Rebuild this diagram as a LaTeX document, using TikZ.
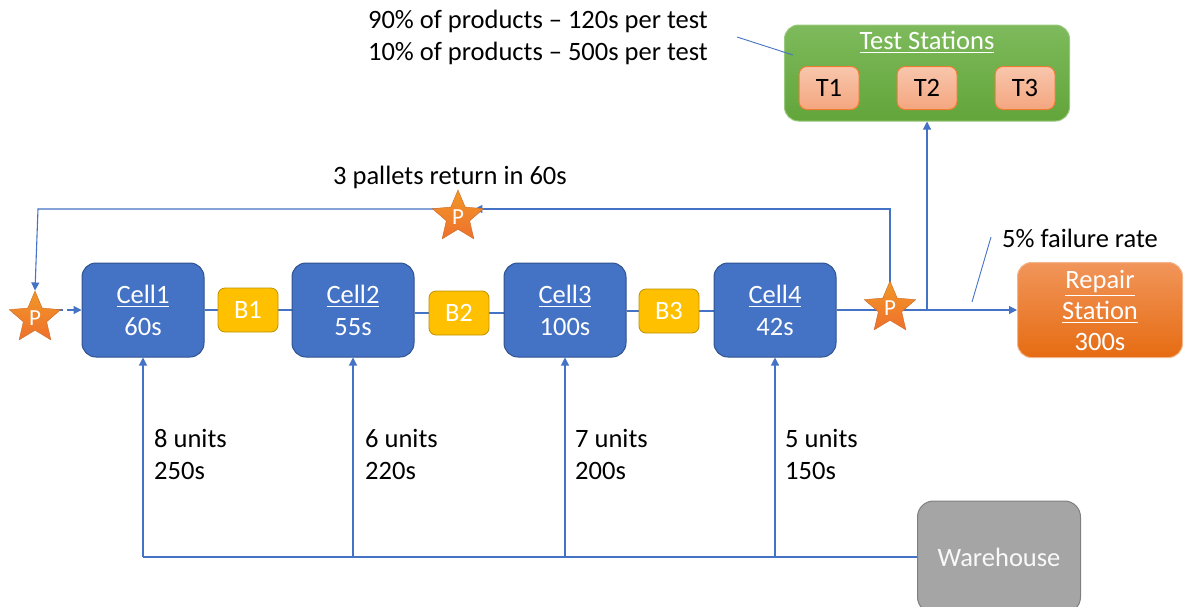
\documentclass[tikz,border=0pt]{standalone}
\usepackage{fontspec}
\setmainfont{Carlito}
\usetikzlibrary{shapes.geometric,arrows.meta,backgrounds}
\definecolor{cellblue}{HTML}{4472C4}
\definecolor{celledge}{HTML}{2F528F}
\definecolor{bufyel}{HTML}{FFC000}
\definecolor{bufedge}{HTML}{BF9000}
\definecolor{flowblue}{HTML}{4472C4}
\definecolor{starorange}{HTML}{ED7D31}
\definecolor{greentop}{HTML}{7EBA5C}
\definecolor{greenbot}{HTML}{62A53A}
\definecolor{salmontop}{HTML}{F8C6AC}
\definecolor{salmonbot}{HTML}{F4A67F}
\definecolor{repairtop}{HTML}{F1955A}
\definecolor{repairbot}{HTML}{E66C12}
\definecolor{whgray}{HTML}{A5A5A5}
\definecolor{whedge}{HTML}{7F7F7F}
% underlined title with a slightly heavier rule
\newcommand\titleline[1]{\leavevmode\vtop{\hbox{#1}\kern2.5pt\hrule height 1.6pt}}
\tikzset{
  big/.style={font=\fontsize{26.5}{32}\selectfont},
  cellbox/.style={big, draw=celledge, line width=1pt, fill=cellblue, rounded corners=14pt,
    text=white, align=center, minimum width=122pt, minimum height=94pt, inner sep=0pt},
  bufbox/.style={big, draw=bufedge, line width=0.8pt, fill=bufyel, rounded corners=7pt,
    text=white, minimum width=60pt, minimum height=44pt, inner sep=0pt},
  pstar/.style={star, star points=5, star point ratio=2.2, minimum size=54pt, inner sep=0pt,
    draw=starorange!85!black, line width=0.4pt, top color=starorange!80!yellow, bottom color=starorange!90!red,
    text=white, font=\fontsize{23}{24}\selectfont},
  tbox/.style={big, draw=starorange, line width=1pt, top color=salmontop, bottom color=salmonbot,
    rounded corners=8pt, minimum width=60pt, minimum height=43pt, inner sep=0pt, text=black},
  flow/.style={draw=flowblue, line width=1.1pt},
  arr/.style={flow, -{Triangle[length=8pt,width=8pt]}},
  note/.style={draw=flowblue, line width=0.9pt},
  label/.style={big, align=left, inner sep=0pt, text=black},
}
\begin{document}
\begin{tikzpicture}[x=1pt,y=-1pt]
\useasboundingbox (0,0) rectangle (1184,606);

% production cells and buffers
\node[cellbox] (cell1) at (143,310) {\titleline{Cell1}\\60s};
\node[bufbox]  (b1)    at (248,310) {B1};
\node[cellbox] (cell2) at (353,310) {\titleline{Cell2}\\55s};
\node[bufbox]  (b2)    at (459,313) {B2};
\node[cellbox] (cell3) at (565,310) {\titleline{Cell3}\\100s};
\node[bufbox]  (b3)    at (669,311) {B3};
\node[cellbox] (cell4) at (775,310) {\titleline{Cell4}\\42s};

% test stations
\node[draw=greentop!80!white, line width=1pt, top color=greentop, bottom color=greenbot,
      rounded corners=14pt, minimum width=285pt, minimum height=96pt] (test) at (927,73) {};
\node[big, text=white, inner sep=0pt] (testtitle) at (927,42) {\titleline{Test Stations}};
\node[tbox] (t1) at (829,88) {T1};
\node[tbox] (t2) at (927,88) {T2};
\node[tbox] (t3) at (1025,88) {T3};

% repair station
\node[big, draw=repairtop!70!white, line width=1pt, top color=repairtop, bottom color=repairbot,
      rounded corners=14pt, minimum width=165pt, minimum height=95pt, text=white, align=center,
      inner sep=0pt, font=\fontsize{26.5}{31}\selectfont] (repair) at (1100,310)
      {\titleline{Repair}\\\titleline{Station}\\300s};

% warehouse
\node[big, draw=whedge, line width=1pt, fill=whgray, rounded corners=16pt,
      minimum width=163pt, minimum height=112pt, text=white!95!gray] (wh) at (999,557) {Warehouse};

% pallet stars
\node[pstar] (lstar) at (35,318) {P};
\node[pstar] (tstar) at (458,217) {P};
\node[pstar] (rstar) at (890,308) {P};

\begin{pgfonlayer}{background}
% main line through the cells
\draw[flow] (cell1.east) -- (b1.west);
\draw[flow] (b1.east) -- (cell2.west);
\draw[flow] (cell2.east |- b2.west) -- (b2.west);
\draw[flow] (b2.east) -- (cell3.west |- b2.east);
\draw[flow] (cell3.east |- b3.west) -- (b3.west);
\draw[flow] (b3.east) -- (cell4.west |- b3.east);
\coordinate (junc) at (927,310);
\draw[flow] (cell4.east) -- (junc);
\draw[arr] (junc) -- (test.south);
\draw[arr] (junc) -- (repair.west);

% pallet return loop
\coordinate (rtop) at (890,209);
\coordinate (ltop) at (38,209);
\draw[arr] (rstar.center) -- (rtop) -- (tstar.east |- rtop);
\draw[arr] (tstar.west |- rtop) -- (ltop) -- (lstar.north);
\draw[arr, dashed, dash pattern=on 12pt off 4pt] (lstar.east |- cell1.west) -- (cell1.west);

% warehouse supply lines
\coordinate (wleft) at (cell1.south |- wh.west);
\draw[flow] (wh.west) -- (wleft);
\draw[arr] (wleft) -- (cell1.south);
\draw[arr] (cell2.south |- wh.west) -- (cell2.south);
\draw[arr] (cell3.south |- wh.west) -- (cell3.south);
\draw[arr] (cell4.south |- wh.west) -- (cell4.south);
\end{pgfonlayer}

% supply labels
\node[label, anchor=north west] (l1) at (154,429) {8 units\\250s};
\node[label, anchor=north west] (l2) at (365,429) {6 units\\220s};
\node[label, anchor=north west] (l3) at (575,429) {7 units\\200s};
\node[label, anchor=north west] (l4) at (785,429) {5 units\\150s};

% notes
\node[big, anchor=north east, align=right, inner sep=0pt] (testnote) at (708,10)
  {90\% of products -- 120s per test\\10\% of products -- 500s per test};
\coordinate (tn1) at (737,37);
\coordinate (tn2) at (793,55);
\draw[note] (tn1) -- (tn2);

\node[big, inner sep=0pt] (retnote) at (450,177) {3 pallets return in 60s};

\node[big, anchor=west, inner sep=0pt] (failnote) at (1002,238) {5\% failure rate};
\coordinate (fn1) at (991,237);
\coordinate (fn2) at (972,302);
\draw[note] (fn1) -- (fn2);
\end{tikzpicture}
\end{document}
